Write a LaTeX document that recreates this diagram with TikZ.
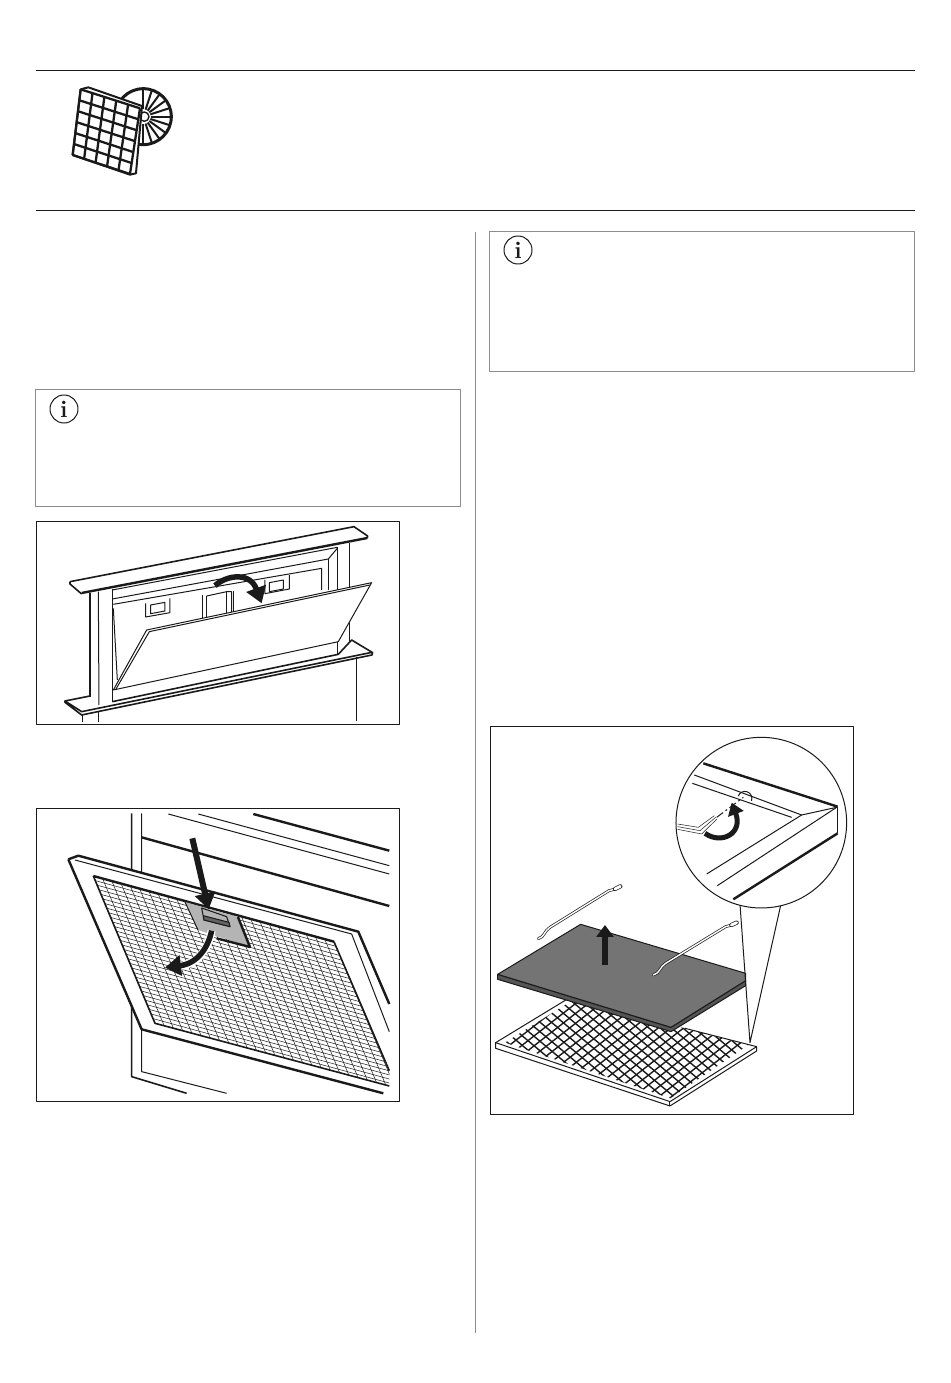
\documentclass[tikz,border=0pt]{standalone}
\usetikzlibrary{arrows.meta}
\definecolor{ink}{HTML}{1A1A1A}
\definecolor{notegray}{HTML}{8C8C8C}
\definecolor{tabgray}{HTML}{B4B4B4}
\definecolor{platetop}{HTML}{747474}
\definecolor{plateside}{HTML}{555555}
\tikzset{
  rulebar/.style={draw=ink,line width=1pt},
  notebox/.style={draw=notegray,line width=0.8pt},
  figbox/.style={draw=ink,line width=0.9pt},
  infoicon/.style={draw=ink,circle,line width=1pt,minimum size=28pt,inner sep=0pt,
    font=\fontsize{24}{24}\selectfont\bfseries,text=ink},
  thinl/.style={draw=ink,line width=1pt},
  medl/.style={draw=ink,line width=1.6pt},
  thickl/.style={draw=ink,line width=2.4pt},
  fatarrow/.style={draw=ink,line width=5.5pt,-{Triangle[length=16pt,width=20pt]}},
  haloarrow/.style={draw=white,line width=8pt},
  rodl/.style={draw=ink,line width=0.7pt,double=white,double distance=1.4pt,line cap=round},
  rodtip/.style={draw=ink,line width=0.7pt,double=white,double distance=2.8pt,line cap=round}
}
\begin{document}
\begin{tikzpicture}[x=1pt,y=-1pt,line join=round]
\useasboundingbox (0,0) rectangle (950,1383);
% page rules and frames
\draw[rulebar] (36,70.5) -- (915,70.5);
\draw[rulebar] (36,210.5) -- (915,210.5);
\draw[notebox] (475,232) -- (475,1333);
\draw[notebox] (35.5,389.5) rectangle (460.5,506);
\draw[notebox] (489.5,231.5) rectangle (914.5,371);
\node[infoicon] (infoleft) at (64,409) {i};
\node[infoicon] (inforight) at (518,250) {i};
\draw[figbox] (36.5,521) rectangle (399.5,724);
\draw[figbox] (36.5,808.5) rectangle (399.5,1101.5);
\draw[figbox] (490.5,726.5) rectangle (853.5,1114.5);
% header icon
\begin{scope}[shift={(30,60)},x=0.3333pt,y=-0.3333pt]
\foreach \a in {-90,-72,...,90}
  \draw[draw=ink,line width=2pt] ({340+22*cos(\a)},{170+22*sin(\a)}) -- ({340+82*cos(\a)},{170+82*sin(\a)});
\draw[draw=ink,line width=3pt] (340,170) circle (84);
\draw[draw=ink,line width=1.4pt,fill=white] (343,170) circle (14);
\draw[draw=ink,fill=white,line width=2pt] (152,88) -- (175,82) -- (336,138) -- (318,340) -- (300,344) -- (128,285) -- cycle;
\foreach \i in {0,...,5}
  \draw[draw=ink,line width=2.3pt] ({152+178*\i/5},{88+57*\i/5}) -- ({128+172*\i/5},{285+57*\i/5});
\foreach \j in {0,...,6}
  \draw[draw=ink,line width=2.3pt] ({152-24*\j/6},{88+197*\j/6}) -- ({330-30*\j/6},{145+197*\j/6});
\end{scope}
% panel with the open flap
\begin{scope}[shift={(30,515)},x=0.3333pt,y=-0.3333pt]
\draw[medl] (180,235) -- (180,545);
\draw[thinl] (205,230) -- (207,570);
\draw[medl] (247,222) -- (247,560);
\draw[thinl] (922,97) -- (922,418);
\draw[medl] (958,85) -- (958,410);
\draw[thinl] (247,225) -- (922,97);
\draw[thinl] (247,252) -- (895,132) -- (922,100);
\draw[thinl] (895,132) -- (895,225);
\draw[thinl] (250,268) -- (875,160) -- (875,225);
\draw[thinl] (250,280) -- (262,495);
\draw[thinl] (347,265) -- (347,306) -- (420,293) -- (420,250);
\draw[thinl] (362,270) -- (405,262) -- (405,288) -- (362,296) -- cycle;
\draw[thinl] (705,195) -- (705,236) -- (778,222) -- (778,180);
\draw[thinl] (718,203) -- (760,195) -- (760,222) -- (718,230) -- cycle;
\draw[thinl] (518,240) -- (518,308);
\draw[thinl] (530,243) -- (590,230) -- (605,230) -- (605,295);
\draw[thinl] (530,243) -- (530,308);
\draw[thinl] (590,232) -- (590,295);
\draw[thinl] (610,228) -- (610,290);
\draw[thinl,fill=white] (250,525) -- (350,345) -- (1025,203) -- (925,380) -- cycle;
\draw[thinl] (258,522) -- (358,350) -- (1020,210);
\draw[medl] (105,558) -- (180,543);
\draw[medl,fill=white] (247,560) -- (925,418) -- (965,375) -- (1028,413) -- (1026,420) -- (155,600) -- (105,562) -- (105,558) -- (155,590) -- (1026,412);
\draw[medl] (120,200) -- (972,35) -- (1013,63) -- (1012,70);
\draw[medl] (120,200) -- (120,207) -- (155,237);
\draw[thickl] (155,234) -- (1012,69);
\draw[medl] (158,600) -- (158,620);
\draw[thinl] (205,592) -- (205,620);
\draw[medl] (980,425) -- (980,618);
\draw[fatarrow] (555,212) .. controls (590,180) and (660,170) .. (695,265);
\end{scope}
% panel with the grease filter
\begin{scope}[shift={(30,800)},x=0.3333pt,y=-0.3333pt]
\draw[medl] (305,40) -- (305,830) -- (470,880);
\draw[thinl] (335,40) -- (335,815) -- (590,880);
\draw[thinl] (415,42) -- (1078,222);
\draw[thinl] (505,42) -- (1078,197);
\draw[thickl] (670,42) -- (1078,152);
\draw[thickl] (335,112) -- (1078,318);
\fill[white] (115,178) -- (145,167) -- (985,395) -- (1078,610) -- (1078,880) -- (1060,880) -- (335,688) -- cycle;
\begin{scope}
\clip (190,228) -- (912,425) -- (1078,812) -- (1078,858) -- (375,670) -- cycle;
\foreach \i in {-2,...,36}
  \draw[draw=ink,line width=0.5pt] ({190+5.78*\i-20},{228+13.8*\i-5.4}) -- ++(960,262);
\foreach \i in {-16,...,30}
  \draw[draw=ink,line width=0.5pt] ({190+27.77*\i},{228+7.58*\i}) -- ++(231,552);
\end{scope}
\draw[thickl] (190,228) -- (912,425);
\draw[medl] (190,228) -- (375,670) -- (1078,858);
\draw[medl] (912,425) -- (1078,812);
\draw[thickl] (115,178) -- (145,167) -- (985,395) -- (1078,612);
\draw[thickl] (115,178) -- (335,688) -- (1060,880);
\draw[thinl] (135,180) -- (965,402) -- (1078,695);
\fill[tabgray] (465,306) -- (624,351) -- (660,441) -- (504,390) -- cycle;
\draw[thinl] (465,306) -- (504,390);
\draw[thickl] (624,351) -- (660,441) -- (560,415);
\draw[thinl,fill=tabgray] (515,324) -- (590,350) -- (600,380) -- (522,360) -- cycle;
\draw[thinl,fill=tabgray!55!black] (520,347) -- (597,367) -- (600,380) -- (522,360) -- cycle;
\draw[haloarrow] (545,392) .. controls (535,440) and (510,490) .. (450,498);
\draw[fatarrow] (545,392) .. controls (535,440) and (505,490) .. (405,503);
\draw[draw=ink,line width=6pt,-{Triangle[length=16pt,width=20pt]}] (487,115) -- (536,328);
\end{scope}
% panel with the carbon filter
\begin{scope}[shift={(485,720)},x=0.3333pt,y=-0.3333pt]
\begin{scope}
\clip (60,968) -- (267,838) -- (790,975) -- (556,1135) -- cycle;
\foreach \i in {-8,...,40}
  \draw[draw=ink,line width=1.4pt] ({\i*34-200},800) -- ++(500,420);
\foreach \i in {-14,...,50}
  \draw[draw=ink,line width=1.4pt] ({\i*38-100},1200) -- ++(500,-390);
\end{scope}
\draw[thinl] (32,968) -- (267,825);
\draw[thinl] (815,980) -- (600,925);
\draw[thinl] (32,968) -- (555,1145) -- (815,980) -- (815,993) -- (555,1158) -- (32,985) -- cycle;
\draw[thinl] (555,1145) -- (555,1158);
\draw[thinl,fill=plateside] (38,763) -- (38,778) -- (558,935) -- (782,797) -- (782,782) -- (558,922) -- cycle;
\draw[thinl,fill=platetop] (38,763) -- (287,613) -- (782,760) -- (782,782) -- (558,922) -- cycle;
\draw[draw=white,line width=6.5pt] (360,735) -- (360,650);
\draw[draw=ink,line width=5.5pt,-{Triangle[length=12pt,width=17pt]}] (360,735) -- (360,615);
\draw[rodl] (160,656) .. controls (178,652) and (178,632) .. (195,622) -- (372,512) -- (388,508);
\draw[rodtip] (390,507) -- (406,499);
\draw[rodl] (505,765) .. controls (525,760) and (525,740) .. (542,730) -- (722,620) -- (737,616);
\draw[rodtip] (739,615) -- (755,608);
\draw[thinl] (765,552) -- (795,968) -- (888,552);
\draw[thinl,fill=white] (829,308) circle (256);
\draw[thickl] (655,130) -- (1058,260);
\draw[medl] (1058,260) -- (1058,340);
\draw[thickl] (745,538) -- (1058,340);
\draw[thinl] (628,165) -- (950,285) -- (1055,262);
\draw[thinl] (622,190) -- (920,292);
\draw[thinl] (665,462) -- (950,285);
\draw[thinl] (697,497) -- (1055,262);
\draw[thinl] (760,228) arc (200:380:21);
\draw[thinl,dash pattern=on 8pt off 3pt on 2pt off 3pt] (695,292) -- (775,232);
\draw[draw=ink,line width=0.5pt] (578,312) -- (640,322) -- (688,287);
\draw[draw=ink,line width=0.5pt] (578,320) -- (645,332) -- (692,292);
\draw[draw=ink,line width=0.5pt] (578,328) -- (650,342) -- (696,297);
\draw[draw=ink,line width=5pt,-{Triangle[length=12pt,width=16pt]}] (660,340) .. controls (710,375) and (775,340) .. (740,248);
\end{scope}
\end{tikzpicture}
\end{document}
